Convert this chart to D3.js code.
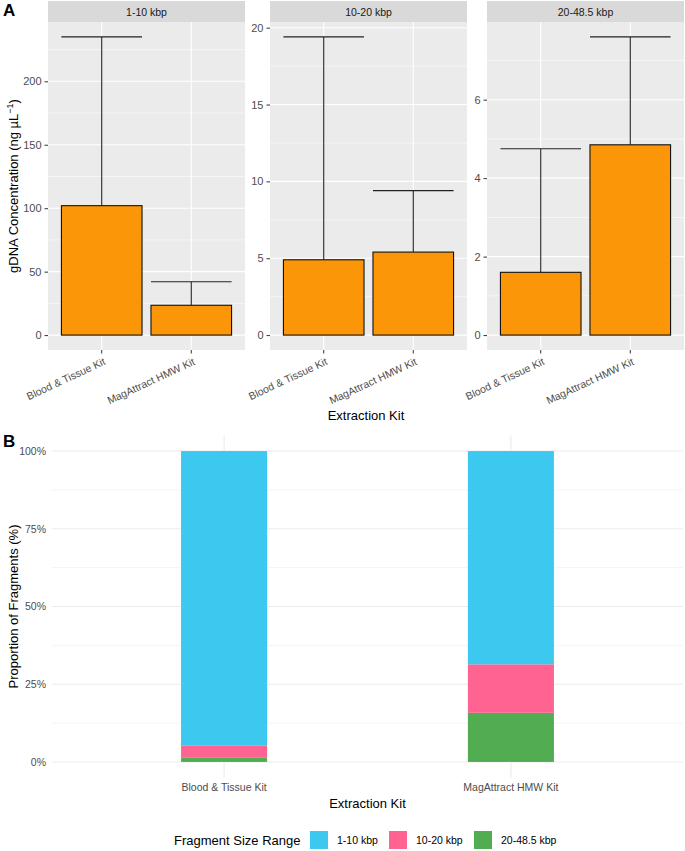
<!DOCTYPE html>
<html>
<head>
<meta charset="utf-8">
<script src="https://cdn.jsdelivr.net/npm/d3@7"></script>
<style>
  body { margin: 0; background: #fff; }
  svg text { font-family: "Liberation Sans", Arial, sans-serif; }
</style>
</head>
<body>
<div id="chart"></div>
<script>
// ---- data ----
const kits = ["Blood & Tissue Kit", "MagAttract HMW Kit"];
const sizeRanges = ["1-10 kbp", "10-20 kbp", "20-48.5 kbp"];
// panel A: mean concentration and upper error per size range (one row per facet)
const concMean = [[102, 23.5], [4.9, 5.4], [1.6, 4.85]];
const concUpper = [[235, 42], [19.4, 9.4], [4.75, 7.6]];
const concTicks = [[0, 50, 100, 150, 200], [0, 5, 10, 15, 20], [0, 2, 4, 6]];
const concMinor = [[25, 75, 125, 175, 225], [2.5, 7.5, 12.5, 17.5], [1, 3, 5, 7]];
// panel B: proportion of fragments (%) per kit
const prop1to10 = [94.8, 68.6];
const prop10to20 = [3.7, 15.6];
const prop20to48 = [1.5, 15.8];
const propTicks = [0, 25, 50, 75, 100];
const propMinor = [12.5, 37.5, 62.5, 87.5];

const fillColors = {"1-10 kbp": "#3DC8F0", "10-20 kbp": "#FF6392", "20-48.5 kbp": "#52AD52"};
const barOrange = "#FA9608";

const W = 685, H = 851;
const svg = d3.select("#chart").append("svg")
    .attr("width", W).attr("height", H);

// ================= Panel A =================
const facetLeft = [48, 270, 487];
const facetW = 197;
const stripTop = 1, stripH = 21;
const panTop = stripTop + stripH, panBottom = 350;

sizeRanges.forEach((rng, i) => {
    let g = svg.append("g");
    let x0 = facetLeft[i];

    // ggplot: 0.6 unit expansion each side, bar width 0.9
    let xc = d3.scalePoint().domain(kits).range([x0 + facetW * 0.6 / 2.2, x0 + facetW * 1.6 / 2.2]);
    let unit = facetW / 2.2;
    let bw = unit * 0.9;

    let maxV = d3.max(concUpper[i]);
    let y = d3.scaleLinear().domain([-0.05 * maxV, 1.05 * maxV]).range([panBottom, panTop]);

    // strip
    g.append("rect").attr("x", x0).attr("y", stripTop).attr("width", facetW).attr("height", stripH)
        .attr("fill", "#D9D9D9");
    g.append("text").attr("x", x0 + facetW / 2).attr("y", stripTop + stripH / 2 + 4)
        .attr("text-anchor", "middle").attr("font-size", 10.5).attr("fill", "#1A1A1A").text(rng);

    // panel bg
    g.append("rect").attr("x", x0).attr("y", panTop).attr("width", facetW).attr("height", panBottom - panTop)
        .attr("fill", "#EBEBEB");

    // grid
    concMinor[i].filter(v => y(v) > panTop).forEach(v => {
        g.append("line").attr("x1", x0).attr("x2", x0 + facetW).attr("y1", y(v)).attr("y2", y(v))
            .attr("stroke", "#fff").attr("stroke-width", 0.55);
    });
    concTicks[i].forEach(v => {
        g.append("line").attr("x1", x0).attr("x2", x0 + facetW).attr("y1", y(v)).attr("y2", y(v))
            .attr("stroke", "#fff").attr("stroke-width", 1.1);
    });
    kits.forEach(k => {
        g.append("line").attr("x1", xc(k)).attr("x2", xc(k)).attr("y1", panTop).attr("y2", panBottom)
            .attr("stroke", "#fff").attr("stroke-width", 1.1);
    });

    // error bars (upper part)
    kits.forEach((k, j) => {
        let cx = xc(k);
        g.append("line").attr("x1", cx).attr("x2", cx)
            .attr("y1", y(concMean[i][j])).attr("y2", y(concUpper[i][j]))
            .attr("stroke", "#222").attr("stroke-width", 1.1);
        g.append("line").attr("x1", cx - bw / 2).attr("x2", cx + bw / 2)
            .attr("y1", y(concUpper[i][j])).attr("y2", y(concUpper[i][j]))
            .attr("stroke", "#222").attr("stroke-width", 1.1);
    });

    // bars
    kits.forEach((k, j) => {
        g.append("rect").attr("x", xc(k) - bw / 2).attr("width", bw)
            .attr("y", y(concMean[i][j])).attr("height", y(0) - y(concMean[i][j]))
            .attr("fill", barOrange).attr("stroke", "#111").attr("stroke-width", 1.1);
    });

    // y axis
    let yAxis = g.append("g").attr("transform", `translate(${x0},0)`)
        .call(d3.axisLeft(y).tickValues(concTicks[i]).tickSize(3.5).tickPadding(3));
    yAxis.select(".domain").remove();
    yAxis.selectAll(".tick line").attr("stroke", "#333");
    yAxis.selectAll(".tick text").attr("fill", "#4D4D4D").attr("font-size", 11)
        .attr("font-family", "Liberation Sans, Arial, sans-serif");

    // x axis
    kits.forEach(k => {
        let cx = xc(k);
        g.append("line").attr("x1", cx).attr("x2", cx).attr("y1", panBottom).attr("y2", panBottom + 3.5)
            .attr("stroke", "#333");
        g.append("text")
            .attr("transform", `translate(${cx + 1},${panBottom + 7}) rotate(-25)`)
            .attr("text-anchor", "end").attr("dy", "0.75em")
            .attr("font-size", 10.5).attr("fill", "#4D4D4D").text(k);
    });
});

// axis titles A
svg.append("text").attr("x", (48 + 684) / 2).attr("y", 420)
    .attr("text-anchor", "middle").attr("font-size", 13).attr("fill", "#000").text("Extraction Kit");
let yt = svg.append("text")
    .attr("transform", `translate(18,${(panTop + panBottom) / 2}) rotate(-90)`)
    .attr("text-anchor", "middle").attr("font-size", 13).attr("fill", "#000");
yt.append("tspan").text("gDNA Concentration (ng \u00B5L");
yt.append("tspan").attr("font-size", 9).attr("dy", -5).text("\u22121");
yt.append("tspan").attr("dy", 5).text(")");

svg.append("text").attr("x", 3).attr("y", 16).attr("font-size", 17).attr("font-weight", "bold").text("A");

// ================= Panel B =================
const bLeft = 52, bRight = 683, bTop = 435.5, bBottom = 777.5;
const gB = svg.append("g");
const unitB = (bRight - bLeft) / 2.2;
const xB = d3.scalePoint().domain(kits).range([bLeft + 0.6 * unitB, bRight - 0.6 * unitB]);
const bwB = unitB * 0.3;
const yB = d3.scaleLinear().domain([-5, 105]).range([bBottom, bTop]);

propMinor.forEach(v => {
    gB.append("line").attr("x1", bLeft).attr("x2", bRight).attr("y1", yB(v)).attr("y2", yB(v))
        .attr("stroke", "#F2F2F2").attr("stroke-width", 0.8);
});
propTicks.forEach(v => {
    gB.append("line").attr("x1", bLeft).attr("x2", bRight).attr("y1", yB(v)).attr("y2", yB(v))
        .attr("stroke", "#EBEBEB").attr("stroke-width", 1.1);
});
kits.forEach(k => {
    gB.append("line").attr("x1", xB(k)).attr("x2", xB(k)).attr("y1", bTop).attr("y2", bBottom)
        .attr("stroke", "#EBEBEB").attr("stroke-width", 1.1);
});

// stacked bars
const stackRows = kits.map((k, j) => ({
    kit: k,
    "1-10 kbp": prop1to10[j],
    "10-20 kbp": prop10to20[j],
    "20-48.5 kbp": prop20to48[j]
}));
const stackOrder = ["20-48.5 kbp", "10-20 kbp", "1-10 kbp"];
const stacked = d3.stack().keys(stackOrder)(stackRows);
stacked.forEach(layer => {
    gB.selectAll(null).data(layer).enter().append("rect")
        .attr("x", d => xB(d.data.kit) - bwB / 2)
        .attr("width", bwB)
        .attr("y", d => yB(d[1]))
        .attr("height", d => yB(d[0]) - yB(d[1]))
        .attr("fill", fillColors[layer.key]);
});

// y axis B
const yAxisB = gB.append("g").attr("transform", `translate(${bLeft},0)`)
    .call(d3.axisLeft(yB).tickValues(propTicks).tickSize(0).tickPadding(6).tickFormat(d => d + "%"));
yAxisB.select(".domain").remove();
yAxisB.selectAll(".tick text").attr("fill", "#4D4D4D").attr("font-size", 10.5)
    .attr("font-family", "Liberation Sans, Arial, sans-serif");

// x axis B
kits.forEach(k => {
    gB.append("text").attr("x", xB(k)).attr("y", 791)
        .attr("text-anchor", "middle").attr("font-size", 10.5).attr("fill", "#4D4D4D").text(k);
});

svg.append("text").attr("x", (bLeft + bRight) / 2).attr("y", 808)
    .attr("text-anchor", "middle").attr("font-size", 13).attr("fill", "#000").text("Extraction Kit");
svg.append("text")
    .attr("transform", `translate(18,${(bTop + bBottom) / 2}) rotate(-90)`)
    .attr("text-anchor", "middle").attr("font-size", 13).attr("fill", "#000").text("Proportion of Fragments (%)");

svg.append("text").attr("x", 3).attr("y", 447).attr("font-size", 17).attr("font-weight", "bold").text("B");

// legend
const leg = svg.append("g");
leg.append("text").attr("x", 174).attr("y", 845).attr("font-size", 13).attr("fill", "#000")
    .text("Fragment Size Range");
const legX = [310, 389, 474];
sizeRanges.forEach((r, i) => {
    leg.append("rect").attr("x", legX[i]).attr("y", 831).attr("width", 18).attr("height", 18)
        .attr("fill", fillColors[r]);
    leg.append("text").attr("x", legX[i] + 27).attr("y", 844).attr("font-size", 10.5)
        .attr("fill", "#000").text(r);
});
</script>
</body>
</html>
